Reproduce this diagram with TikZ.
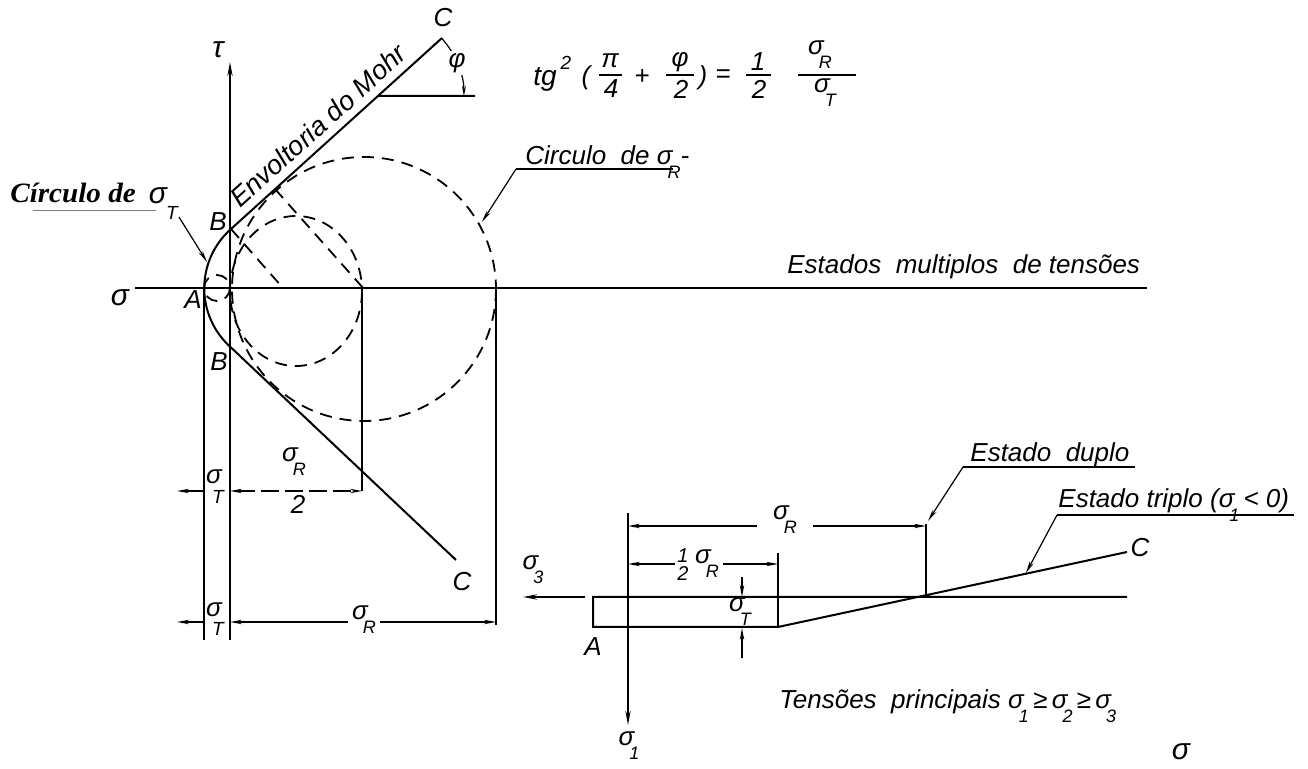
\documentclass[tikz,border=0pt]{standalone}
\usepackage{fontspec}
\setmainfont{Liberation Sans}
\newfontfamily\serifbi{Liberation Serif}
\usetikzlibrary{arrows.meta,calc}
\newcommand{\sgm}[1]{σ\kern-2.5pt\raisebox{-7pt}{\fontsize{9}{9}\selectfont #1}}
\tikzset{
  lab/.style={font=\fontsize{13}{15}\selectfont\itshape, inner sep=1pt},
  small/.style={font=\fontsize{9.5}{11}\selectfont\itshape, inner sep=0.5pt},
  mainln/.style={line width=1pt},
  thinln/.style={line width=0.6pt},
  dashcirc/.style={line width=0.9pt, dash pattern=on 6pt off 4pt},
  arr/.style={-{Stealth[length=7pt,width=2.6pt]}},
  dimarr/.style={line width=0.6pt,{Stealth[length=6pt,width=2.2pt]}-{Stealth[length=6pt,width=2.2pt]}},
  onearr/.style={line width=0.6pt,-{Stealth[length=6pt,width=2.2pt]}},
  gap/.style={fill=white, inner sep=2pt}
}
\begin{document}
\begin{tikzpicture}[x=0.5pt,y=-0.5pt]
\useasboundingbox (0,0) rectangle (1308,769);
\fill[white] (0,0) rectangle (1308,769);

% ---------- key points (left diagram) ----------
\coordinate (tauTop) at (230,62);
\coordinate (tauBot) at (230,640);
\coordinate (sigL) at (135,288);
\coordinate (sigR) at (1147,288);
\coordinate (A) at (204,288);
\coordinate (Abot) at (204,640);
\coordinate (B1) at (231,229);
\coordinate (B2) at (231,347);
\coordinate (C1) at (442,38);
\coordinate (C2) at (456,560);
\coordinate (Kc) at (283,288);
\coordinate (Mc) at (296,291);
\coordinate (Gc) at (364,289);
\coordinate (Sc) at (217,288);
\coordinate (Tg) at (275,189);
\coordinate (P) at ($(B1)!0.6963!(C1)$);
\coordinate (Pe) at (475,96);

% axes
\draw[mainln,arr] (tauBot) -- (tauTop);
\draw[mainln] (sigL) -- (sigR);

% circles
\draw[dashcirc] (Sc) circle[radius=13];
\draw[dashcirc] (Mc) circle[x radius=66, y radius=75];
\draw[dashcirc] (Gc) circle[radius=132];
\draw[dashcirc] (B1) -- (Kc);
\draw[dashcirc] (Tg) -- (Gc);

% Mohr envelope
\draw[mainln] (C1) -- (B1) arc[start angle=228.6, end angle=131.4, radius=79] -- (C2);
\path (B1) -- (C1) node[lab, pos=0.47, sloped, above, inner sep=4pt, font=\fontsize{13.5}{15}\selectfont\itshape] (env) {Envoltoria do Mohr};

% angle phi
\draw[mainln] (P) -- (Pe);
\draw[thinln,-{Stealth[length=5pt,width=2pt]}] ($(P)+(-42:86)$) arc[start angle=-42, end angle=0, radius=86];
\node[lab, gap, inner sep=1pt] (phi) at (457,63) {φ};

% extension lines
\draw[thinln] (A) -- (Abot);
\draw[thinln] (362,288) coordinate (e1a) -- (362,491) coordinate (e1b);
\draw[thinln] (496,288) coordinate (e2a) -- (496,625) coordinate (e2b);

% dimension sigma_R/2
\draw[dimarr, dash pattern=on 9pt off 3pt] (230,491) coordinate (d1a) -- (e1b);
\draw[onearr] (204,491) coordinate (d0a) -- (177,491) coordinate (d0b);
\node[lab] (sRh) at (294,462) {\sgm{R}};
\node[lab] (two1) at (298,504) {2};
\node[lab] (sT1s) at (214,477) {σ};
\node[small] (sT1t) at (218,497) {T};

% dimension sigma_R bottom
\draw[dimarr] (230,622) coordinate (d2a) -- (496,622) coordinate (d2b);
\draw[onearr] (204,622) coordinate (d3a) -- (177,622) coordinate (d3b);
\node[lab, gap] (sR1) at (364,620) {\sgm{R}};
\node[lab] (sT2s) at (214,610) {σ};
\node[small] (sT2t) at (218,629) {T};

% point labels
\node[lab, font=\fontsize{15}{15}\selectfont\itshape] (tau) at (218,50) {τ};
\node[lab, font=\fontsize{15}{15}\selectfont\itshape] (sig) at (120,298) {σ};
\node[lab] (lA) at (193,300) {A};
\node[lab] (lB1) at (218,222) {B};
\node[lab] (lB2) at (219,362) {B};
\node[lab] (lC1) at (443,18) {C};
\node[lab] (lC2) at (462,582) {C};

% Circulo de sigma_R
\node[lab, anchor=base west] (circR) at (523,165) {Circulo\ \ de \sgm{R}-};
\draw[thinln] (516,169) coordinate (cRu) -- (673,169);
\draw[thinln,-{Stealth[length=6pt,width=2.2pt]}] (cRu) -- (482,222) coordinate (cRt);

% Circulo de sigma_T (serif bold italic)
\node[anchor=base west, inner sep=0pt, font=\serifbi\bfseries\itshape\fontsize{14}{16}\selectfont] (circT) at (10,203) {\scalebox{1.04}[1]{Círculo de}};
\node[lab, font=\fontsize{15}{15}\selectfont\itshape] (circTs) at (158,196) {σ};
\node[small] (circTT) at (172,213) {T};
\draw[line width=0.5pt, gray] (33,211) -- (156,211);
\draw[thinln,-{Stealth[length=6pt,width=2.2pt]}] (179,217) coordinate (cTs) -- (207,262) coordinate (cTt);

% formula
\node[lab, font=\fontsize{14}{15}\selectfont\itshape] (tg) at (545,79) {tg};
\node[small] (tg2) at (566,63) {2};
\node[lab] (par1) at (586,78) {(};
\node[lab] (pi) at (610,61) {π};
\draw[mainln] (599,75) -- (622,75);
\node[lab] (four) at (611,89) {4};
\node[lab] (plus) at (642,77) {+};
\node[lab] (phi2) at (680,62) {φ};
\draw[mainln] (666,75) -- (694,75);
\node[lab] (two2) at (681,89) {2};
\node[lab] (par2) at (703,78) {)};
\node[lab] (eq) at (723,76) {=};
\node[lab] (one) at (758,62) {1};
\draw[mainln] (746,75) -- (771,75);
\node[lab] (two3) at (759,89) {2};
\node[lab] (numR) at (820,55) {\sgm{R}};
\draw[mainln] (798,75) -- (856,75);
\node[lab] (denT) at (825,93) {\sgm{T}};

% Estados multiplos
\node[lab, anchor=base west] (multi) at (785,274) {Estados\ \ multiplos\ \ de tensões};

% ---------- right lower diagram ----------
\coordinate (Ra) at (593,597);
\coordinate (Rb) at (593,627);
\coordinate (Rc) at (778,627);
\coordinate (Hend) at (1127,597);
\coordinate (Cend) at (1127,552);
\coordinate (S1top) at (628,513);
\draw[mainln] (Hend) -- (Ra) -- (Rb) -- (Rc) -- (Cend);
\draw[mainln,arr] (S1top) -- (628,725);
\draw[mainln,arr] (585,597) -- (523,597);
\draw[thinln] (778,553) -- (Rc);
\draw[thinln] (926,524) coordinate (vd) -- (926,597);

% dimensions
\draw[dimarr] (628,526) -- (926,526);
\node[lab, gap, inner xsep=8pt] (sRtop) at (785,520) {\sgm{R}};
\draw[dimarr] (628,564) -- (778,564);
\node[gap, inner sep=1pt] (half) at (683,565) {\shortstack{\fontsize{10}{10}\selectfont\itshape 1\\[-1pt]\fontsize{10}{10}\selectfont\itshape 2}};
\node[lab, gap] (sRhalf) at (707,564) {\sgm{R}};
\draw[onearr] (742,577) -- (742,597);
\draw[onearr] (742,658) -- (742,628);
\node[lab] (sTr) at (740,612) {\sgm{T}};

\node[lab] (lA2) at (593,647) {A};
\node[lab] (lC3) at (1140,548) {C};
\node[lab] (s3) at (533,570) {\sgm{3}};
\node[lab] (s1) at (629,746) {\sgm{1}};
\node[lab, font=\fontsize{15}{15}\selectfont\itshape] (sigB) at (1181,752) {σ};

% Estado duplo
\node[lab, anchor=base west] (duplo) at (968,462) {Estado\ \ duplo};
\draw[thinln] (963,467) coordinate (du) -- (1135,467);
\draw[thinln,-{Stealth[length=6pt,width=2.2pt]}] (du) -- (928,521);

% Estado triplo
\node[lab, anchor=base west] (triplo) at (1056,508) {Estado triplo (\sgm{1}\kern2pt< 0)};
\draw[thinln] (1057,515) coordinate (tu) -- (1294,515);
\draw[thinln,-{Stealth[length=6pt,width=2.2pt]}] (tu) -- (1026,573);

% Tensoes principais
\node[lab, anchor=base west] (tens) at (777,709) {Tensões\ \ principais \sgm{1}\,≥\,\sgm{2}\,≥\,\sgm{3}};
\end{tikzpicture}
\end{document}
